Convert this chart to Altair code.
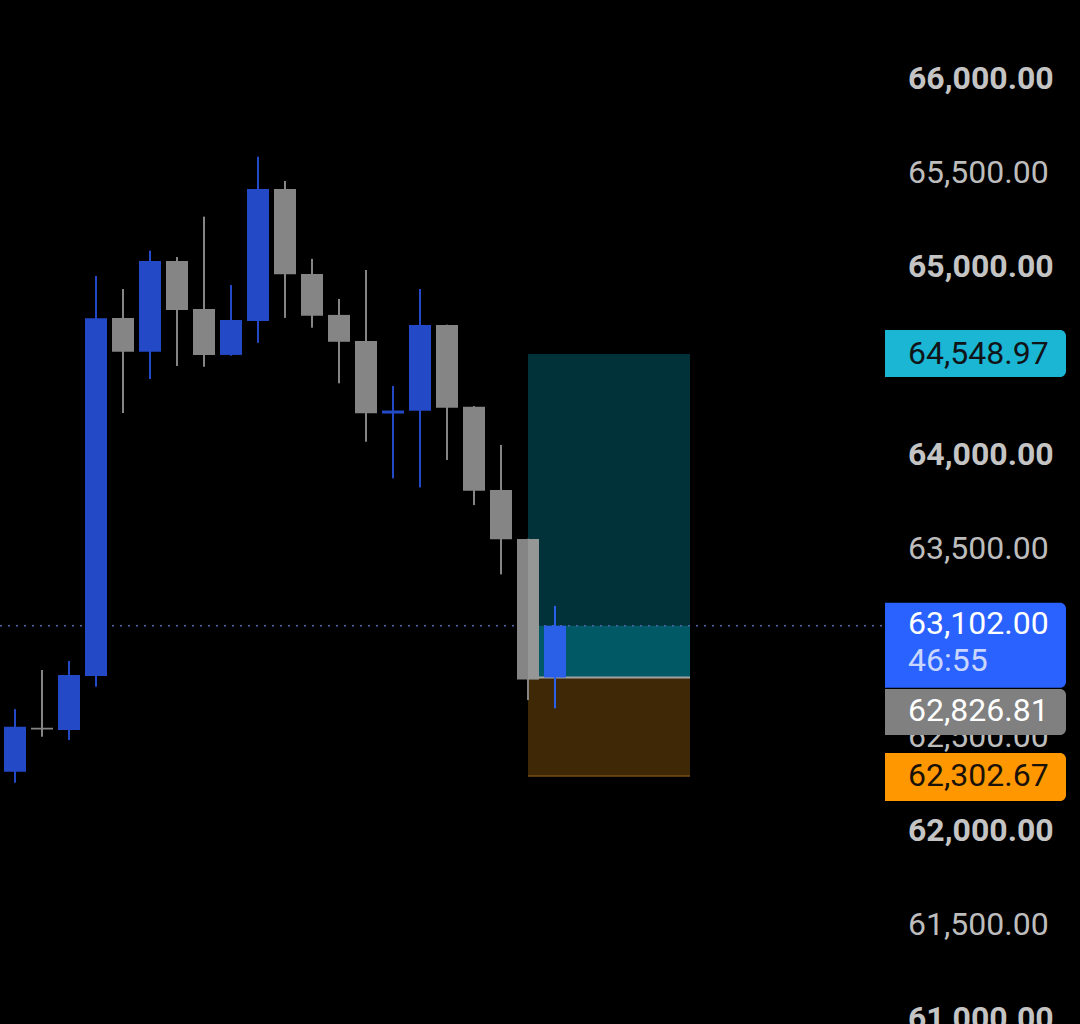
import altair as alt
import pandas as pd

# ---- candle data (index 0..20) ----
opens  = [62326, 62560, 62548, 62835, 64740, 64561, 65044, 64788, 64544, 64725, 65427,
          64975, 64757, 64618, 64232, 64247, 64703, 64268, 63825, 63564, 62826.81]
highs  = [62659, 62867, 62915, 64964, 64895, 65099, 65065, 65280, 64916, 65599, 65470,
          65055, 64842, 64996, 64379, 64895, 64705, 64272, 64065, 63566, 63208]
lows   = [62267, 62512, 62494, 62778, 64235, 64416, 64485, 64481, 64540, 64608, 64741,
          64689, 64393, 64082, 63887, 63839, 63985, 63745, 63376, 62707, 62663]
closes = [62565, 62550, 62840, 64739, 64561, 65044, 64783, 64544, 64730, 65427, 64973,
          64753, 64614, 64233, 64248, 64703, 64263, 63821, 63563, 62817, 63102]

# ---- position tool ----
pos_start = [19]
pos_end = [25]
entry_price = [62826.81]
target_price = [64548.97]
stop_price = [62302.67]
current_price = [63102.00]
countdown = ["46:55"]

# ---- price-axis labels ----
tick_values = [61000, 61500, 62000, 62500, 63500, 64000, 65000, 65500, 66000]

n = len(opens)
candles = pd.DataFrame({
    "i": list(range(n)),
    "open": opens, "high": highs, "low": lows, "close": closes,
})
candles["kind"] = ["up" if c >= o else "down" for o, c in zip(opens, closes)]
candles.loc[n - 1, "kind"] = "last"

pos = pd.DataFrame({
    "start": pos_start, "end": pos_end,
    "entry": entry_price, "target": target_price, "stop": stop_price,
    "current": current_price,
})

ticks = pd.DataFrame({"value": tick_values})

xscale = alt.Scale(domain=[-0.5556, 39.4444], nice=False, zero=False, padding=0)
yscale = alt.Scale(domain=[60983, 66433], nice=False, zero=False, padding=0)

color_scale = alt.Scale(domain=["up", "down", "last"],
                        range=["#2349c6", "#858585", "#2a5fe8"])

X = lambda f: alt.X(f"{f}:Q", scale=xscale, axis=None)
Y = lambda f: alt.Y(f"{f}:Q", scale=yscale, axis=None)

# Profit zone (dark teal), filled zone up to current price (brighter), loss zone (orange)
teal = alt.Chart(pos).mark_rect(color="#013239").encode(
    x=X("start"), x2="end", y=Y("entry"), y2="target")
teal_fill = alt.Chart(pos).mark_rect(color="#015966").encode(
    x=X("start"), x2="end", y=Y("entry"), y2="current")
orange = alt.Chart(pos).mark_rect(color="#3f2806").encode(
    x=X("start"), x2="end", y=Y("stop"), y2="entry")
orange_edge = alt.Chart(pos).mark_rule(color="#7a4c18", strokeWidth=1.5).encode(
    x=X("start"), x2="end", y=Y("stop"))
entry_line = alt.Chart(pos).mark_rule(color="#a3a3a3", strokeWidth=2).encode(
    x=X("start"), x2="end", y=Y("entry"))

current_line = alt.Chart(pos).mark_rule(
    color="#4f66a8", strokeWidth=1.5, strokeDash=[2, 6]).encode(
    x=alt.value(0), x2=alt.value(885), y=Y("current"))

wicks = alt.Chart(candles).mark_rule(strokeWidth=2).encode(
    x=X("i"), y=Y("low"), y2="high",
    color=alt.Color("kind:N", scale=color_scale, legend=None))
bodies = alt.Chart(candles).mark_bar(size=22, minBandSize=2).encode(
    x=X("i"), y=Y("open"), y2="close",
    color=alt.Color("kind:N", scale=color_scale, legend=None))

# light overlay of the position box over the candle it starts on
overlay = alt.Chart(candles).transform_filter("datum.i === 19").mark_rect(
    color="#c8d0d0", opacity=0.25, x2Offset=11).encode(
    x=X("i"), x2="i:Q", y=Y("open"), y2="close")

TAG_X, TAG_X2, TEXT_X = 885, 1066, 908
tag_font = dict(font="Roboto", fontSize=32, align="left", baseline="middle")

def axis_text(test, weight, color):
    return alt.Chart(ticks).transform_filter(test).mark_text(
        color=color, dy=-2, fontWeight=weight, **tag_font).encode(
        x=alt.value(TEXT_X), y=Y("value"),
        text=alt.Text("value:Q", format=",.2f"))

axis_major = axis_text("datum.value % 1000 === 0", "bold", "#c4c4c4")
axis_minor = axis_text("datum.value % 1000 !== 0", "normal", "#bdbdbd")

def tag(field, fill, y_off, y2_off):
    return alt.Chart(pos).mark_rect(
        color=fill, yOffset=y_off, y2Offset=y2_off,
        cornerRadiusTopRight=6, cornerRadiusBottomRight=6).encode(
        x=alt.value(TAG_X), x2=alt.value(TAG_X2), y=Y(field), y2=f"{field}:Q")

def tag_text(field, color, dy, text=None):
    enc = dict(x=alt.value(TEXT_X), y=Y(field))
    if text is None:
        enc["text"] = alt.Text(f"{field}:Q", format=",.2f")
    else:
        enc["text"] = alt.value(text)
    return alt.Chart(pos).mark_text(color=color, dy=dy, **tag_font).encode(**enc)

tags = [
    tag("target", "#1ab6d3", -24, 23),
    tag_text("target", "#101418", 0),
    tag("current", "#2962ff", -23, 62),
    tag_text("current", "#ffffff", -2),
    tag_text("current", "#c9d6ff", 35, countdown[0]),
    tag("entry", "#808080", 11.5, 57.5),
    tag_text("entry", "#ffffff", 33),
    tag("stop", "#ff9800", -23, 25),
    tag_text("stop", "#1a1208", 0),
]

chart = alt.layer(
    teal, teal_fill, orange, orange_edge, entry_line, current_line,
    wicks, bodies, overlay, axis_major, axis_minor, *tags,
).properties(
    width=1080, height=1024,
    autosize=alt.AutoSizeParams(type="none"),
    padding=0,
    background="#000000",
).configure_view(stroke=None)

chart.save("out.html", embed_options={"renderer": "svg", "actions": False})
